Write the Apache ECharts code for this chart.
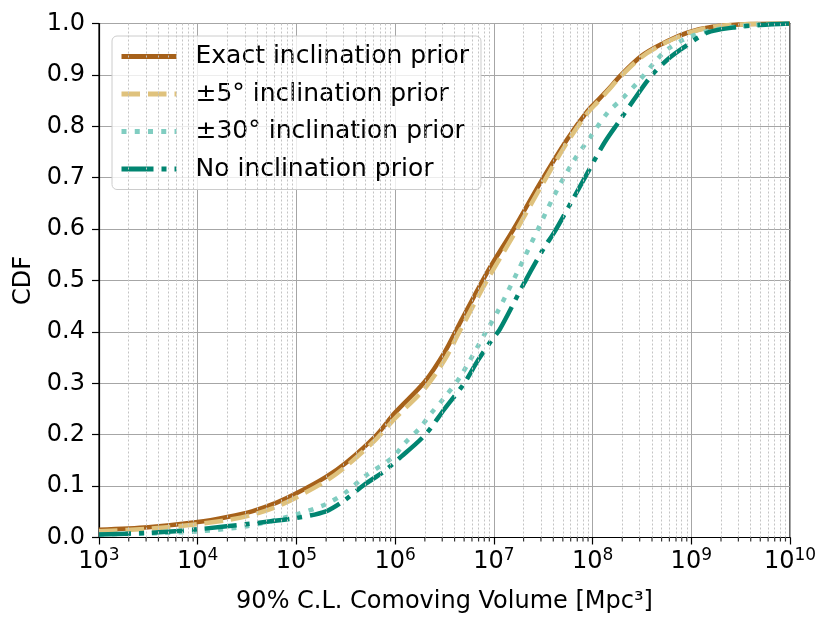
<!DOCTYPE html>
<html>
<head>
<meta charset="utf-8">
<script src="https://cdn.jsdelivr.net/npm/echarts@6/dist/echarts.min.js"></script>
<style>
html, body { margin: 0; padding: 0; background: #fff; }
#cdf-chart { width: 831px; height: 627px; }
</style>
</head>
<body>
<div id="cdf-chart"></div>
<script>
// x values are log10 of the 90% C.L. comoving volume (Mpc^3), y is the CDF
var exactLogV = [3.0, 3.5, 4.0, 4.3, 4.55, 4.8, 5.0, 5.3, 5.5, 5.8, 6.0, 6.3, 6.5, 6.65, 6.93, 7.2, 7.47, 7.74, 7.95, 8.05, 8.15, 8.29, 8.49, 8.69, 8.96, 9.23, 9.6, 10.0];
var exactCdf  = [0.015, 0.020, 0.030, 0.040, 0.051, 0.068, 0.086, 0.118, 0.145, 0.197, 0.243, 0.303, 0.360, 0.415, 0.515, 0.600, 0.690, 0.774, 0.830, 0.850, 0.870, 0.900, 0.936, 0.959, 0.982, 0.994, 0.999, 1.0];

var fiveLogV = [3.0, 3.5, 4.0, 4.3, 4.55, 4.8, 5.0, 5.3, 5.5, 5.8, 6.0, 6.3, 6.5, 6.65, 6.93, 7.2, 7.47, 7.74, 7.95, 8.05, 8.15, 8.29, 8.49, 8.69, 8.96, 9.23, 9.6, 10.0];
var fiveCdf  = [0.012, 0.017, 0.026, 0.034, 0.044, 0.060, 0.078, 0.110, 0.138, 0.190, 0.232, 0.290, 0.345, 0.400, 0.500, 0.588, 0.680, 0.768, 0.826, 0.847, 0.868, 0.898, 0.934, 0.958, 0.981, 0.994, 0.999, 1.0];

var thirtyLogV = [3.0, 3.5, 4.0, 4.5, 5.0, 5.3, 5.5, 5.7, 5.97, 6.1, 6.25, 6.37, 6.49, 6.66, 6.92, 7.04, 7.24, 7.44, 7.61, 7.8, 7.98, 8.15, 8.29, 8.46, 8.63, 8.76, 8.96, 9.23, 9.7, 10.0];
var thirtyCdf  = [0.006, 0.008, 0.012, 0.022, 0.045, 0.065, 0.088, 0.120, 0.155, 0.184, 0.213, 0.243, 0.270, 0.313, 0.400, 0.440, 0.517, 0.597, 0.665, 0.730, 0.780, 0.826, 0.852, 0.886, 0.925, 0.950, 0.972, 0.988, 0.998, 1.0];

var noneLogV = [3.0, 3.5, 4.0, 4.54, 5.0, 5.3, 5.47, 5.69, 5.89, 6.03, 6.3, 6.5, 6.7, 6.84, 6.97, 7.06, 7.31, 7.51, 7.61, 7.78, 7.95, 8.12, 8.27, 8.42, 8.59, 8.76, 8.92, 9.16, 9.42, 9.7, 10.0];
var noneCdf  = [0.006, 0.009, 0.016, 0.027, 0.038, 0.051, 0.070, 0.103, 0.129, 0.152, 0.199, 0.250, 0.300, 0.345, 0.382, 0.405, 0.496, 0.564, 0.593, 0.651, 0.710, 0.768, 0.810, 0.852, 0.897, 0.930, 0.953, 0.982, 0.992, 0.997, 1.0];

var seriesNames = ['Exact inclination prior', '±5° inclination prior', '±30° inclination prior', 'No inclination prior'];
var decades = [3, 4, 5, 6, 7, 8, 9, 10];

function toPoints(logV, cdf) {
    return logV.map(function (e, i) {
        return [Math.pow(10, e), cdf[i]];
    });
}

// minor gridlines of the log axis: 2..9 x 10^d
var minorVals = [];
decades.slice(0, -1).forEach(function (d) {
    for (var k = 2; k <= 9; k++) {
        minorVals.push(k * Math.pow(10, d));
    }
});

var font = 'DejaVu Sans';
var myChart = echarts.init(document.getElementById('cdf-chart'));

var option = {
    animation: false,
    textStyle: { fontFamily: font },
    grid: {
        left: 99,
        right: 41,
        top: 23.5,
        bottom: 89.5,
        show: true,
        borderColor: '#000',
        borderWidth: 1.2,
        backgroundColor: 'transparent'
    },
    legend: {
        data: seriesNames,
        orient: 'vertical',
        left: 112,
        top: 36,
        itemWidth: 55,
        itemHeight: 25,
        itemGap: 12.5,
        padding: [8, 12, 8, 7],
        backgroundColor: 'rgba(255,255,255,0.8)',
        borderColor: '#cccccc',
        borderWidth: 1,
        borderRadius: 5,
        itemStyle: { opacity: 0, borderWidth: 0 },
        lineStyle: { width: 5 },
        textStyle: {
            fontFamily: font,
            fontSize: 25,
            color: '#000',
            lineHeight: 25,
            padding: [0, 0, 0, 14]
        }
    },
    xAxis: {
        type: 'log',
        logBase: 10,
        min: 1e3,
        max: 1e10,
        name: '90% C.L. Comoving Volume [Mpc³]',
        nameLocation: 'middle',
        nameGap: 52,
        nameTextStyle: { fontFamily: font, fontSize: 24, color: '#000' },
        axisLine: { show: true, lineStyle: { color: '#000', width: 1.2 } },
        axisTick: { show: true, inside: false, length: 7, lineStyle: { color: '#000', width: 1.2 } },
        axisLabel: {
            margin: 10,
            color: '#000',
            formatter: function (v) {
                return '{b|10}{s|' + Math.round(Math.log10(v)) + '}';
            },
            rich: {
                b: { fontFamily: font, fontSize: 24, lineHeight: 28, color: '#000' },
                s: { fontFamily: font, fontSize: 17, lineHeight: 17, verticalAlign: 'top', color: '#000' }
            }
        },
        splitLine: { show: true, lineStyle: { color: '#a6a6a6', width: 1 } }
    },
    yAxis: {
        type: 'value',
        min: 0,
        max: 1,
        interval: 0.1,
        name: 'CDF',
        nameLocation: 'middle',
        nameGap: 60,
        nameTextStyle: { fontFamily: font, fontSize: 24, color: '#000' },
        axisLine: { show: true, lineStyle: { color: '#000', width: 1.2 } },
        axisTick: { show: true, inside: false, length: 7, lineStyle: { color: '#000', width: 1.2 } },
        axisLabel: {
            margin: 14,
            fontFamily: font,
            fontSize: 24,
            color: '#000',
            formatter: function (v) { return v.toFixed(1); }
        },
        splitLine: { show: true, lineStyle: { color: '#a6a6a6', width: 1 } }
    },
    series: [{
        name: 'minor',
        type: 'scatter',
        silent: true,
        clip: false,
        z: 1,
        symbol: 'rect',
        symbolSize: [1.2, 4],
        symbolOffset: [0, 2],
        itemStyle: { color: '#000' },
        data: minorVals.map(function (v) { return [v, 0]; }),
        markLine: {
            silent: true,
            symbol: 'none',
            label: { show: false },
            lineStyle: { color: '#c4c4c4', width: 1, type: [2, 2] },
            data: minorVals.map(function (v) { return { xAxis: v }; })
        }
    }, {
        name: seriesNames[0],
        type: 'line',
        showSymbol: false,
        symbol: 'none',
        smooth: 0.3,
        color: '#a6611a',
        lineStyle: { width: 4.5, color: '#a6611a', cap: 'butt' },
        data: toPoints(exactLogV, exactCdf)
    }, {
        name: seriesNames[1],
        type: 'line',
        showSymbol: false,
        symbol: 'none',
        smooth: 0.3,
        color: '#dfc27d',
        lineStyle: { width: 4.5, color: '#dfc27d', type: [18.5, 8], cap: 'butt' },
        data: toPoints(fiveLogV, fiveCdf)
    }, {
        name: seriesNames[2],
        type: 'line',
        showSymbol: false,
        symbol: 'none',
        smooth: 0.3,
        color: '#80cdc1',
        lineStyle: { width: 4.5, color: '#80cdc1', type: [5, 8.25], cap: 'butt' },
        data: toPoints(thirtyLogV, thirtyCdf)
    }, {
        name: seriesNames[3],
        type: 'line',
        showSymbol: false,
        symbol: 'none',
        smooth: 0.3,
        color: '#018571',
        lineStyle: { width: 4.5, color: '#018571', type: [32, 8, 5, 8], cap: 'butt' },
        data: toPoints(noneLogV, noneCdf)
    }]
};
myChart.setOption(option);
</script>
</body>
</html>
